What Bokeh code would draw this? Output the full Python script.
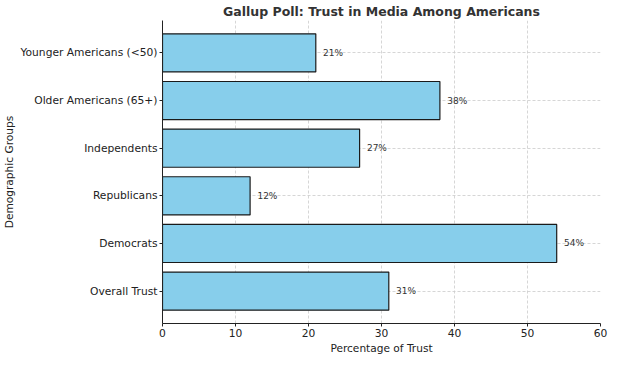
from bokeh.plotting import figure
from bokeh.models import ColumnDataSource, FixedTicker, Range1d
from bokeh.embed import file_html
from bokeh.resources import INLINE
from bokeh.core.properties import value

groups = ["Overall Trust", "Democrats", "Republicans", "Independents",
          "Older Americans (65+)", "Younger Americans (<50)"]
trust = [31, 54, 12, 27, 38, 21]
x_ticks = [0, 10, 20, 30, 40, 50, 60]

FONT = "DejaVu Sans"

src = ColumnDataSource(dict(
    y=list(range(len(groups))),
    trust=trust,
    lx=[t + 1 for t in trust],
    lbl=[f"{t}%" for t in trust],
))

p = figure(width=608, height=356, output_backend="svg",
           toolbar_location=None, x_range=Range1d(0, 60),
           y_range=Range1d(-0.68, 5.68),
           min_border_left=150, min_border_right=8, min_border_top=16,
           min_border_bottom=0, border_fill_color="white")

p.hbar(y="y", right="trust", left=0, height=0.8, source=src,
       fill_color="#87CEEB", line_color="#1a1a1a", line_width=1.2)
p.text(x="lx", y="y", text="lbl", source=src, text_font=value(FONT),
       text_font_size="9px", text_color="#333333", text_baseline="middle",
       text_align="left")

p.title.text = "Gallup Poll: Trust in Media Among Americans"
p.title.text_font = FONT
p.title.text_font_size = "12.5px"
p.title.text_font_style = "bold"
p.title.text_color = "#333333"
p.title.align = "center"
p.title.offset = 0
p.title.standoff = 3

p.xaxis.ticker = FixedTicker(ticks=x_ticks)
p.yaxis.ticker = FixedTicker(ticks=list(range(len(groups))))
p.yaxis.major_label_overrides = {i: g for i, g in enumerate(groups)}

for ax in (p.xaxis[0], p.yaxis[0]):
    ax.axis_line_color = "#222222"
    ax.axis_line_width = 1
    ax.major_tick_line_color = "#222222"
    ax.major_tick_in = 0
    ax.major_tick_out = 3
    ax.minor_tick_line_color = None
    ax.major_label_text_font = FONT
    ax.major_label_text_font_size = "10.7px"
    ax.major_label_text_color = "#222222"
    ax.axis_label_text_font = FONT
    ax.axis_label_text_font_size = "10.6px"
    ax.axis_label_text_font_style = "normal"
    ax.axis_label_text_color = "#222222"
    ax.major_label_standoff = 2
    ax.axis_label_standoff = 2

p.xaxis.axis_label = "Percentage of Trust"
p.yaxis.axis_label = "Demographic Groups"

p.xgrid.grid_line_color = "#cccccc"
p.xgrid.grid_line_dash = "3 2"
p.xgrid.grid_line_alpha = 0.8
p.ygrid.grid_line_color = "#cccccc"
p.ygrid.grid_line_dash = "3 2"
p.ygrid.grid_line_alpha = 0.8
p.outline_line_color = None
p.background_fill_color = "white"

open("out.html", "w").write(file_html(p, INLINE))
